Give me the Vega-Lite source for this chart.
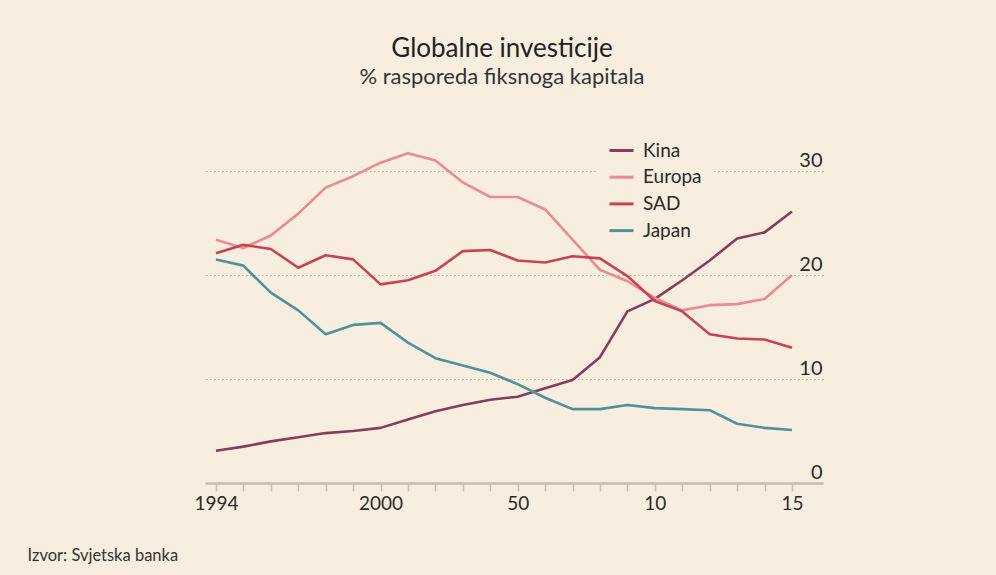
{
  "$schema": "https://vega.github.io/schema/vega-lite/v6.json",
  "autosize": "none",
  "width": 618,
  "height": 312,
  "padding": {"left": 205, "top": 171, "right": 173, "bottom": 92},
  "background": "#f8eedf",
  "title": {
    "text": "Globalne investicije",
    "subtitle": "% rasporeda fiksnoga kapitala",
    "anchor": "middle",
    "frame": "group",
    "dx": -12,
    "offset": 37,
    "font": "Lato",
    "fontSize": 26,
    "fontWeight": "normal",
    "color": "#222222",
    "subtitleFont": "Lato",
    "subtitleFontSize": 22,
    "subtitleColor": "#333333",
    "subtitlePadding": 5
  },
  "config": {
    "view": {"stroke": null},
    "font": "Lato"
  },
  "data": {
    "values": [
      {"year": 1994, "region": "Kina", "value": 3.1},
      {"year": 1995, "region": "Kina", "value": 3.5},
      {"year": 1996, "region": "Kina", "value": 4.0},
      {"year": 1997, "region": "Kina", "value": 4.4},
      {"year": 1998, "region": "Kina", "value": 4.8},
      {"year": 1999, "region": "Kina", "value": 5.0},
      {"year": 2000, "region": "Kina", "value": 5.3},
      {"year": 2001, "region": "Kina", "value": 6.1},
      {"year": 2002, "region": "Kina", "value": 6.9},
      {"year": 2003, "region": "Kina", "value": 7.5},
      {"year": 2004, "region": "Kina", "value": 8.0},
      {"year": 2005, "region": "Kina", "value": 8.3},
      {"year": 2006, "region": "Kina", "value": 9.1},
      {"year": 2007, "region": "Kina", "value": 9.9},
      {"year": 2008, "region": "Kina", "value": 12.1},
      {"year": 2009, "region": "Kina", "value": 16.5},
      {"year": 2010, "region": "Kina", "value": 17.7},
      {"year": 2011, "region": "Kina", "value": 19.5},
      {"year": 2012, "region": "Kina", "value": 21.4},
      {"year": 2013, "region": "Kina", "value": 23.5},
      {"year": 2014, "region": "Kina", "value": 24.1},
      {"year": 2015, "region": "Kina", "value": 26.1},
      {"year": 1994, "region": "Europa", "value": 23.4},
      {"year": 1995, "region": "Europa", "value": 22.6},
      {"year": 1996, "region": "Europa", "value": 23.8},
      {"year": 1997, "region": "Europa", "value": 25.9},
      {"year": 1998, "region": "Europa", "value": 28.4},
      {"year": 1999, "region": "Europa", "value": 29.5},
      {"year": 2000, "region": "Europa", "value": 30.8},
      {"year": 2001, "region": "Europa", "value": 31.7},
      {"year": 2002, "region": "Europa", "value": 31.0},
      {"year": 2003, "region": "Europa", "value": 28.9},
      {"year": 2004, "region": "Europa", "value": 27.5},
      {"year": 2005, "region": "Europa", "value": 27.5},
      {"year": 2006, "region": "Europa", "value": 26.3},
      {"year": 2007, "region": "Europa", "value": 23.4},
      {"year": 2008, "region": "Europa", "value": 20.5},
      {"year": 2009, "region": "Europa", "value": 19.4},
      {"year": 2010, "region": "Europa", "value": 17.8},
      {"year": 2011, "region": "Europa", "value": 16.6},
      {"year": 2012, "region": "Europa", "value": 17.1},
      {"year": 2013, "region": "Europa", "value": 17.2},
      {"year": 2014, "region": "Europa", "value": 17.7},
      {"year": 2015, "region": "Europa", "value": 20.0},
      {"year": 1994, "region": "SAD", "value": 22.1},
      {"year": 1995, "region": "SAD", "value": 22.9},
      {"year": 1996, "region": "SAD", "value": 22.5},
      {"year": 1997, "region": "SAD", "value": 20.7},
      {"year": 1998, "region": "SAD", "value": 21.9},
      {"year": 1999, "region": "SAD", "value": 21.5},
      {"year": 2000, "region": "SAD", "value": 19.1},
      {"year": 2001, "region": "SAD", "value": 19.5},
      {"year": 2002, "region": "SAD", "value": 20.4},
      {"year": 2003, "region": "SAD", "value": 22.3},
      {"year": 2004, "region": "SAD", "value": 22.4},
      {"year": 2005, "region": "SAD", "value": 21.4},
      {"year": 2006, "region": "SAD", "value": 21.2},
      {"year": 2007, "region": "SAD", "value": 21.8},
      {"year": 2008, "region": "SAD", "value": 21.6},
      {"year": 2009, "region": "SAD", "value": 19.9},
      {"year": 2010, "region": "SAD", "value": 17.5},
      {"year": 2011, "region": "SAD", "value": 16.5},
      {"year": 2012, "region": "SAD", "value": 14.3},
      {"year": 2013, "region": "SAD", "value": 13.9},
      {"year": 2014, "region": "SAD", "value": 13.8},
      {"year": 2015, "region": "SAD", "value": 13.0},
      {"year": 1994, "region": "Japan", "value": 21.5},
      {"year": 1995, "region": "Japan", "value": 20.9},
      {"year": 1996, "region": "Japan", "value": 18.3},
      {"year": 1997, "region": "Japan", "value": 16.6},
      {"year": 1998, "region": "Japan", "value": 14.3},
      {"year": 1999, "region": "Japan", "value": 15.2},
      {"year": 2000, "region": "Japan", "value": 15.4},
      {"year": 2001, "region": "Japan", "value": 13.5},
      {"year": 2002, "region": "Japan", "value": 12.0},
      {"year": 2003, "region": "Japan", "value": 11.3},
      {"year": 2004, "region": "Japan", "value": 10.6},
      {"year": 2005, "region": "Japan", "value": 9.5},
      {"year": 2006, "region": "Japan", "value": 8.2},
      {"year": 2007, "region": "Japan", "value": 7.1},
      {"year": 2008, "region": "Japan", "value": 7.1},
      {"year": 2009, "region": "Japan", "value": 7.5},
      {"year": 2010, "region": "Japan", "value": 7.2},
      {"year": 2011, "region": "Japan", "value": 7.1},
      {"year": 2012, "region": "Japan", "value": 7.0},
      {"year": 2013, "region": "Japan", "value": 5.7},
      {"year": 2014, "region": "Japan", "value": 5.3},
      {"year": 2015, "region": "Japan", "value": 5.1}
    ]
  },
  "mark": {"type": "line", "strokeWidth": 2.6, "strokeJoin": "round"},
  "encoding": {
    "x": {
      "field": "year",
      "type": "quantitative",
      "scale": {"domain": [1993.6, 2016.13], "nice": false, "zero": false},
      "axis": {
        "values": [1994, 1995, 1996, 1997, 1998, 1999, 2000, 2001, 2002, 2003, 2004, 2005, 2006, 2007, 2008, 2009, 2010, 2011, 2012, 2013, 2014, 2015],
        "labelExpr": "datum.value == 1994 ? '1994' : datum.value == 2000 ? '2000' : datum.value == 2005 ? '50' : datum.value == 2010 ? '10' : datum.value == 2015 ? '15' : ''",
        "grid": false,
        "domainColor": "#c6beb1",
        "domainWidth": 2.5,
        "tickColor": "#c6beb1",
        "tickWidth": 1.5,
        "tickSize": 8,
        "labelFont": "Lato",
        "labelFontSize": 19,
        "labelColor": "#2a2a2a",
        "labelPadding": 3,
        "labelOverlap": false,
        "labelFlush": false,
        "title": "Izvor: Svjetska banka",
        "titleFont": "Lato",
        "titleFontSize": 16.5,
        "titleFontWeight": "normal",
        "titleColor": "#333333",
        "titleAnchor": "start",
        "titleAlign": "left",
        "titleBaseline": "middle",
        "titleX": -178,
        "titleY": 72
      }
    },
    "y": {
      "field": "value",
      "type": "quantitative",
      "scale": {"domain": [0, 30], "nice": false},
      "axis": {
        "orient": "right",
        "values": [0, 10, 20, 30],
        "grid": true,
        "gridDash": [1.5, 2.5],
        "gridColor": "#b9ad9c",
        "gridWidth": 1,
        "domain": false,
        "ticks": false,
        "labelAlign": "right",
        "labelBaseline": "alphabetic",
        "labelPadding": -1,
        "labelOffset": -5,
        "labelFont": "Lato",
        "labelFontSize": 20,
        "labelColor": "#2a2a2a",
        "title": null
      }
    },
    "color": {
      "field": "region",
      "type": "nominal",
      "scale": {
        "domain": ["Kina", "Europa", "SAD", "Japan"],
        "range": ["#8a3a5c", "#ea8a93", "#c9434f", "#4f929e"]
      },
      "legend": {
        "orient": "none",
        "legendX": 391,
        "legendY": -46,
        "title": null,
        "symbolType": "stroke",
        "symbolSize": 576,
        "symbolStrokeWidth": 3,
        "labelFont": "Lato",
        "labelFontSize": 19,
        "labelColor": "#2a2a2a",
        "labelOffset": 8,
        "rowPadding": 2.7,
        "padding": 12,
        "fillColor": "#f8eedf"
      }
    }
  }
}
